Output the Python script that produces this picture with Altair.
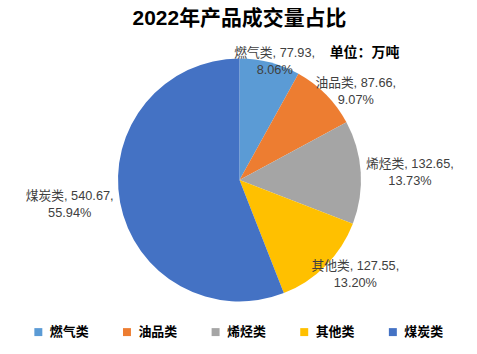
import altair as alt
import pandas as pd

categories = ["燃气类", "油品类", "烯烃类", "其他类", "煤炭类"]
values = [77.93, 87.66, 132.65, 127.55, 540.67]
percents = ["8.06%", "9.07%", "13.73%", "13.20%", "55.94%"]
colors = ["#5B9BD5", "#ED7D31", "#A5A5A5", "#FFC000", "#4472C4"]

df = pd.DataFrame({
    "cat": categories,
    "value": values,
    "pct": percents,
    "idx": list(range(len(categories))),
})
df["label"] = [f"{c}, {v:.2f},\n{p}" for c, v, p in zip(categories, values, percents)]

FONT = "Liberation Sans, Noto Sans CJK SC, sans-serif"
W, H = 477, 300

base = alt.Chart(df)

pie = base.mark_arc(outerRadius=122).encode(
    theta=alt.Theta("value:Q", stack=True),
    order=alt.Order("idx:Q"),
    color=alt.Color(
        "cat:N",
        scale=alt.Scale(domain=categories, range=colors),
        sort=categories,
        legend=alt.Legend(
            title=None,
            orient="none",
            legendX=30,
            legendY=296,
            direction="horizontal",
            columns=5,
            symbolType="square",
            symbolSize=64,
            symbolStrokeWidth=0,
            labelFont=FONT,
            labelFontSize=13,
            labelFontWeight="bold",
            labelColor="#000000",
            columnPadding=31,
            labelOffset=5,
        ),
    ),
)

labels = base.transform_window(
    cum="sum(value)", sort=[alt.SortField("idx")]
).transform_joinaggregate(
    total="sum(value)"
).transform_calculate(
    mid="(datum.cum - datum.value / 2) / datum.total * 2 * PI",
).transform_calculate(
    lx=f"{W / 2} + 172 * sin(datum.mid) - 8 * abs(cos(datum.mid))",
    ly=f"{H / 2} - 130 * cos(datum.mid) - 8 * abs(sin(datum.mid))",
).mark_text(
    lineBreak="\n", font=FONT, fontSize=12.8, color="#404040",
    align="center", baseline="middle", lineHeight=17,
).encode(
    x=alt.X("lx:Q", scale=None),
    y=alt.Y("ly:Q", scale=None),
    text="label:N",
)

unit = alt.Chart(pd.DataFrame({"t": ["单位：万吨"]})).mark_text(
    font=FONT, fontSize=14, fontWeight="bold", color="#000000", align="center", baseline="middle"
).encode(
    x=alt.value(364), y=alt.value(22), text="t:N"
)

chart = alt.layer(pie, labels, unit).resolve_scale(
    theta="independent"
).properties(
    width=W,
    height=H,
    title=alt.TitleParams(
        "2022年产品成交量占比",
        font=FONT, fontSize=21, fontWeight="bold", color="#000000",
        anchor="middle", offset=2,
    ),
    autosize=alt.AutoSizeParams(type="none"),
    padding={"left": 2, "top": 30, "right": 0, "bottom": 24},
).configure_view(stroke=None)

chart.save("out.html", embed_options={"renderer": "svg", "actions": False})
